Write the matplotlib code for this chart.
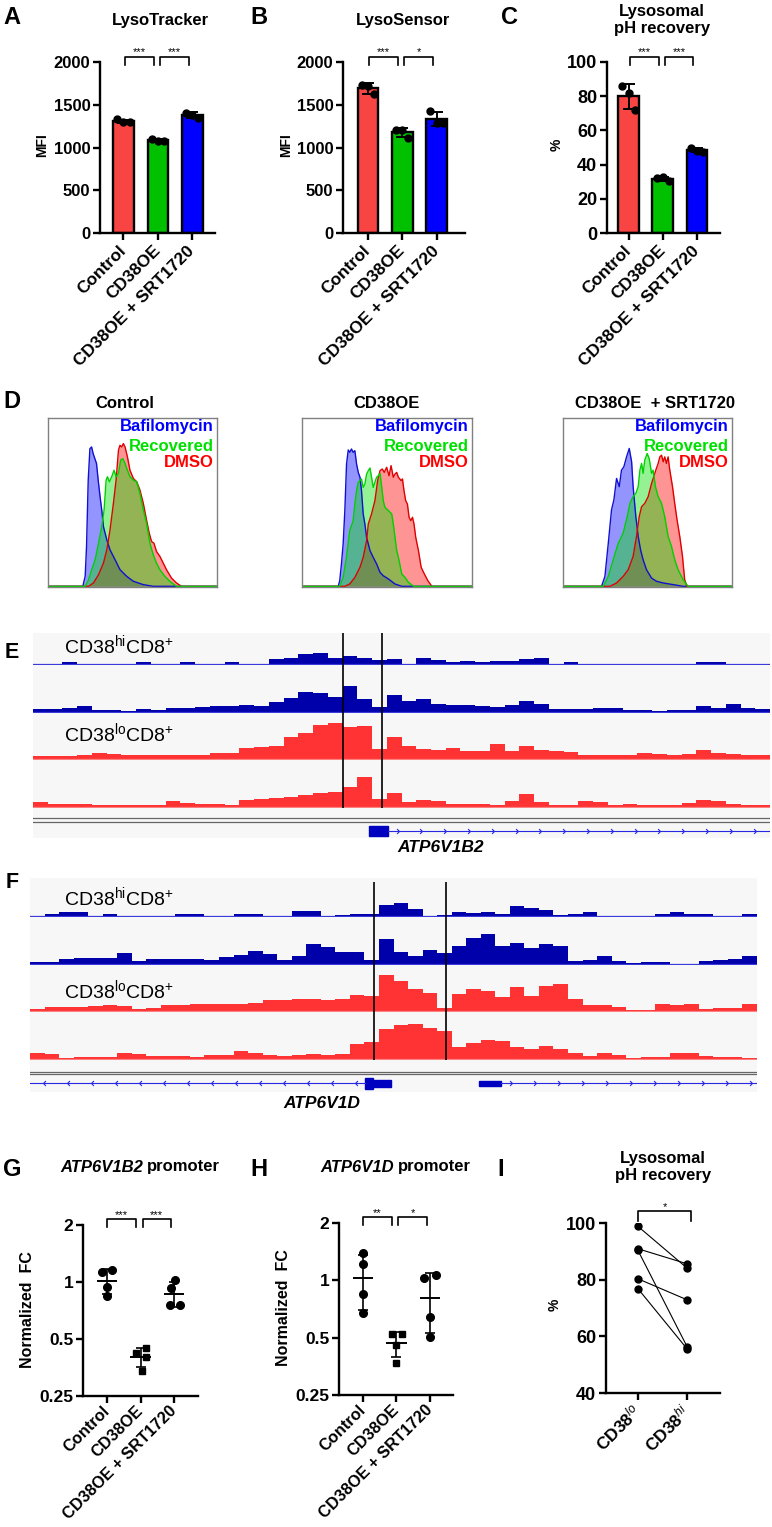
import numpy as np
import matplotlib
matplotlib.use('Agg')
import matplotlib.pyplot as plt
from matplotlib.path import Path
from matplotlib.patches import Rectangle

plt.rcParams['font.family'] = ['Liberation Sans', 'DejaVu Sans']
plt.rcParams['mathtext.fontset'] = 'custom'
plt.rcParams['mathtext.rm'] = 'Liberation Sans'
plt.rcParams['mathtext.it'] = 'Liberation Sans:italic'
plt.rcParams['mathtext.bf'] = 'Liberation Sans:bold'

W, H = 772, 1527

# ---------------- data ----------------
groups = ['Control', 'CD38OE', 'CD38OE + SRT1720']
tracker_pts = [[1330, 1300, 1295], [1105, 1080, 1075], [1405, 1385, 1340]]
sensor_pts = [[1735, 1725, 1620], [1210, 1205, 1115], [1425, 1290, 1285]]
recovery_pts = [[86, 82, 72], [32, 32.5, 30.5], [50, 48, 47.5]]

# flow histograms (x, y as fraction of the plot box)
ctrl_baf_x = [0, 0.206, 0.220, 0.228, 0.238, 0.248, 0.258, 0.267, 0.287, 0.297, 0.308, 0.318, 0.328, 0.348, 0.367, 0.397, 0.426, 0.466, 0.505, 0.564, 0.623, 1]
ctrl_baf_y = [0, 0, 0.06, 0.237, 0.631, 0.818, 0.828, 0.789, 0.730, 0.631, 0.533, 0.454, 0.355, 0.276, 0.217, 0.158, 0.099, 0.059, 0.030, 0.010, 0, 0]
ctrl_rec_x = [0, 0.220, 0.240, 0.259, 0.279, 0.299, 0.318, 0.332, 0.344, 0.352, 0.363, 0.377, 0.391, 0.403, 0.417, 0.430, 0.442, 0.456, 0.466, 0.485, 0.505, 0.525, 0.544, 0.564, 0.583, 0.603, 0.623, 0.642, 0.662, 0.692, 0.721, 0.760, 1]
ctrl_rec_y = [0, 0, 0.039, 0.099, 0.158, 0.256, 0.355, 0.454, 0.631, 0.651, 0.621, 0.651, 0.690, 0.651, 0.671, 0.750, 0.759, 0.730, 0.700, 0.651, 0.631, 0.621, 0.552, 0.454, 0.375, 0.256, 0.187, 0.138, 0.099, 0.059, 0.030, 0, 0]
ctrl_dmso_x = [0, 0.240, 0.269, 0.299, 0.328, 0.348, 0.367, 0.387, 0.403, 0.417, 0.426, 0.436, 0.446, 0.456, 0.470, 0.485, 0.505, 0.525, 0.544, 0.564, 0.583, 0.599, 0.613, 0.627, 0.642, 0.662, 0.682, 0.701, 0.731, 0.760, 0.790, 1]
ctrl_dmso_y = [0, 0, 0.020, 0.069, 0.138, 0.217, 0.335, 0.493, 0.631, 0.809, 0.838, 0.828, 0.848, 0.828, 0.769, 0.690, 0.641, 0.621, 0.572, 0.493, 0.394, 0.316, 0.266, 0.256, 0.207, 0.178, 0.138, 0.099, 0.049, 0.020, 0, 0]

oe_baf_x = [0, 0.213, 0.222, 0.232, 0.242, 0.252, 0.262, 0.272, 0.281, 0.291, 0.301, 0.311, 0.321, 0.331, 0.341, 0.350, 0.360, 0.370, 0.380, 0.400, 0.419, 0.439, 0.459, 0.478, 0.508, 0.547, 0.587, 1]
oe_baf_y = [0, 0, 0.034, 0.133, 0.251, 0.450, 0.727, 0.810, 0.796, 0.816, 0.796, 0.806, 0.727, 0.677, 0.648, 0.568, 0.430, 0.370, 0.291, 0.212, 0.172, 0.133, 0.083, 0.063, 0.044, 0.014, 0, 0]
oe_rec_x = [0, 0.222, 0.242, 0.262, 0.272, 0.281, 0.301, 0.311, 0.321, 0.331, 0.341, 0.350, 0.360, 0.370, 0.380, 0.390, 0.400, 0.409, 0.419, 0.429, 0.439, 0.449, 0.459, 0.469, 0.478, 0.488, 0.508, 0.528, 0.537, 0.547, 0.557, 0.567, 0.587, 0.606, 0.626, 0.656, 1]
oe_rec_y = [0, 0, 0.053, 0.172, 0.261, 0.331, 0.390, 0.489, 0.568, 0.618, 0.628, 0.638, 0.588, 0.608, 0.667, 0.687, 0.703, 0.648, 0.588, 0.618, 0.648, 0.657, 0.671, 0.588, 0.509, 0.469, 0.450, 0.430, 0.370, 0.291, 0.212, 0.172, 0.073, 0.053, 0.024, 0, 0]
oe_dmso_x = [0, 0.252, 0.281, 0.311, 0.341, 0.360, 0.380, 0.390, 0.409, 0.429, 0.445, 0.459, 0.472, 0.484, 0.498, 0.512, 0.524, 0.537, 0.547, 0.557, 0.567, 0.583, 0.591, 0.600, 0.610, 0.620, 0.630, 0.640, 0.650, 0.659, 0.669, 0.685, 0.701, 0.720, 0.740, 0.764, 1]
oe_dmso_y = [0, 0, 0.014, 0.053, 0.113, 0.172, 0.271, 0.370, 0.430, 0.509, 0.628, 0.687, 0.697, 0.677, 0.707, 0.657, 0.717, 0.648, 0.667, 0.677, 0.648, 0.628, 0.638, 0.568, 0.509, 0.489, 0.410, 0.390, 0.410, 0.370, 0.291, 0.212, 0.113, 0.073, 0.034, 0, 0]

srt_baf_x = [0, 0.228, 0.248, 0.268, 0.287, 0.301, 0.317, 0.333, 0.346, 0.360, 0.376, 0.392, 0.406, 0.415, 0.431, 0.445, 0.459, 0.474, 0.494, 0.524, 0.553, 0.593, 0.652, 0.711, 1]
srt_baf_y = [0, 0, 0.059, 0.256, 0.454, 0.513, 0.641, 0.592, 0.690, 0.710, 0.769, 0.819, 0.740, 0.592, 0.414, 0.296, 0.217, 0.158, 0.099, 0.049, 0.030, 0.020, 0.010, 0, 0]
srt_rec_x = [0, 0.238, 0.268, 0.297, 0.327, 0.356, 0.380, 0.396, 0.415, 0.431, 0.445, 0.455, 0.465, 0.474, 0.484, 0.498, 0.510, 0.524, 0.533, 0.547, 0.563, 0.583, 0.602, 0.622, 0.642, 0.661, 0.681, 0.711, 0.740, 1]
srt_rec_y = [0, 0, 0.059, 0.158, 0.256, 0.316, 0.414, 0.493, 0.533, 0.552, 0.592, 0.690, 0.730, 0.671, 0.750, 0.789, 0.759, 0.671, 0.690, 0.592, 0.533, 0.493, 0.414, 0.296, 0.237, 0.158, 0.099, 0.039, 0, 0]
srt_dmso_x = [0, 0.278, 0.317, 0.356, 0.386, 0.415, 0.435, 0.451, 0.465, 0.484, 0.504, 0.524, 0.537, 0.549, 0.563, 0.573, 0.583, 0.593, 0.602, 0.612, 0.622, 0.632, 0.648, 0.661, 0.675, 0.691, 0.707, 0.720, 0.734, 1]
srt_dmso_y = [0, 0, 0.020, 0.059, 0.099, 0.178, 0.296, 0.414, 0.473, 0.493, 0.533, 0.611, 0.651, 0.690, 0.730, 0.769, 0.779, 0.740, 0.769, 0.730, 0.769, 0.690, 0.592, 0.493, 0.394, 0.296, 0.178, 0.039, 0, 0]

hist_titles = ['Control', 'CD38OE', 'CD38OE  + SRT1720']
hist_legend = ['Bafilomycin', 'Recovered', 'DMSO']

# coverage tracks (50 bins across the locus, pixel heights)
e_hi1 = [0, 0, 2, 0, 0, 0, 0, 2, 0, 0, 2, 0, 0, 2, 0, 0, 5, 6, 10, 11, 6, 8, 6, 4, 5, 0, 6, 4, 2, 3, 2, 3, 3, 5, 6, 0, 2, 0, 0, 0, 0, 0, 0, 0, 0, 2, 2, 0, 0, 0]
e_hi2 = [3, 3, 4, 6, 2, 2, 1, 3, 2, 4, 4, 5, 6, 6, 7, 6, 10, 14, 20, 19, 15, 26, 13, 5, 17, 11, 13, 8, 7, 7, 6, 5, 7, 11, 8, 3, 3, 3, 4, 4, 2, 2, 1, 2, 2, 6, 4, 8, 4, 3]
e_lo1 = [3, 3, 3, 4, 6, 5, 4, 4, 4, 4, 4, 4, 6, 6, 11, 12, 13, 22, 26, 34, 36, 32, 33, 10, 22, 13, 10, 9, 11, 8, 8, 15, 8, 13, 9, 8, 7, 4, 4, 4, 4, 6, 5, 4, 5, 9, 6, 5, 4, 4]
e_lo2 = [5, 3, 3, 3, 2, 2, 2, 2, 2, 6, 4, 3, 3, 2, 7, 8, 9, 10, 12, 14, 15, 20, 30, 8, 14, 5, 7, 6, 3, 3, 3, 2, 6, 13, 5, 2, 2, 6, 5, 2, 3, 2, 2, 2, 4, 7, 6, 3, 2, 2]
f_hi1 = [0, 2, 4, 4, 0, 2, 0, 0, 0, 0, 2, 2, 0, 0, 2, 2, 0, 0, 5, 5, 0, 1, 2, 2, 11, 13, 7, 0, 1, 4, 3, 4, 2, 10, 8, 6, 1, 2, 4, 0, 0, 0, 0, 2, 4, 2, 2, 0, 0, 2]
f_hi2 = [2, 2, 5, 6, 6, 6, 11, 3, 5, 5, 5, 5, 4, 7, 9, 13, 10, 4, 8, 20, 17, 12, 12, 4, 25, 12, 8, 14, 11, 18, 26, 30, 18, 21, 16, 20, 18, 3, 4, 8, 3, 1, 2, 2, 0, 0, 3, 4, 5, 8]
f_lo1 = [2, 4, 4, 4, 5, 6, 5, 2, 3, 6, 6, 7, 7, 7, 7, 8, 11, 11, 12, 12, 11, 12, 16, 15, 36, 30, 22, 18, 3, 17, 22, 20, 14, 24, 15, 25, 27, 12, 6, 6, 4, 1, 1, 7, 6, 7, 2, 3, 3, 7]
f_lo2 = [6, 5, 1, 2, 2, 2, 6, 5, 3, 3, 3, 2, 4, 4, 8, 6, 4, 3, 4, 5, 4, 5, 15, 17, 30, 34, 35, 31, 28, 12, 16, 19, 18, 12, 10, 13, 10, 6, 3, 6, 4, 1, 2, 2, 6, 6, 3, 2, 2, 1]
e_region = [0.420, 0.474]
f_region = [0.473, 0.572]

# qPCR fold change
g_pts = [[1.13, 1.16, 0.94, 0.84], [0.42, 0.45, 0.40, 0.34], [1.02, 0.93, 0.76, 0.76]]
h_pts = [[1.39, 1.22, 0.85, 0.67], [0.52, 0.52, 0.46, 0.37], [1.03, 1.065, 0.64, 0.505]]
# paired pH recovery
i_lo = [98.8, 90.9, 90.3, 80.3, 76.8]
i_hi = [84.1, 85.6, 56.4, 72.9, 55.6]

# ---------------- style ----------------
bar_colors = ['#f94444', '#00c000', '#0000ff']
hist_colors = ['#0000ff', '#00e000', '#ff0000']
trk_blue = '#0000aa'
trk_red = '#ff3333'
gene_col = '#2828e0'

fig = plt.figure(figsize=(W / 100, H / 100), dpi=100)


def ax_px(l, t, r, b):
    return fig.add_axes([l / W, 1 - b / H, (r - l) / W, (b - t) / H])


def txt(x, y, s, **kw):
    kw.setdefault('ha', 'center')
    kw.setdefault('va', 'center')
    return fig.text(x / W, 1 - y / H, s, **kw)


def prism(ax):
    for s in ['top', 'right']:
        ax.spines[s].set_visible(False)
    for s in ['left', 'bottom']:
        ax.spines[s].set_linewidth(1.7)
    ax.tick_params(width=1.7, length=5, pad=2)


def bracket(ax, x0, x1, ytop, ybot, lab):
    tr = ax.get_xaxis_transform()
    ax.plot([x0, x0, x1, x1], [ybot, ytop, ytop, ybot], color='k', lw=1.2,
            transform=tr, clip_on=False)
    ax.text((x0 + x1) / 2, ytop + 0.008, lab, transform=tr, ha='center',
            va='baseline', fontsize=8)


def xlabels(ax, labels, n, fs=12.5, pad=6):
    ax.set_xticks(np.arange(n), labels, rotation=45, ha='right', va='center',
                  rotation_mode='anchor', fontweight='bold', fontsize=fs)
    ax.tick_params(axis='x', pad=pad)


jit3 = [-0.18, 0.0, 0.18]


def bar_panel(box, pts, xlim, ymax, step, sig, tfs):
    ax = ax_px(*box)
    x = np.arange(3)
    means = [np.mean(p) for p in pts]
    sds = [np.std(p, ddof=1) for p in pts]
    ax.bar(x, means, 0.6, color=bar_colors, edgecolor='k', linewidth=1.7, zorder=2)
    ax.errorbar(x, means, yerr=sds, fmt='none', ecolor='k', elinewidth=1.4,
                capsize=4, capthick=1.4, zorder=3)
    for i, p in enumerate(pts):
        ax.plot(i + np.array(jit3), p, 'o', color='k', ms=5, zorder=4)
    ax.set_xlim(*xlim)
    ax.set_ylim(0, ymax)
    ticks = np.arange(0, ymax + 1, step)
    ax.set_yticks(ticks, [f'{t:g}' for t in ticks], fontweight='bold', fontsize=tfs)
    prism(ax)
    xlabels(ax, groups, 3)
    bracket(ax, 0.04, 0.88, 1.03, 0.983, sig[0])
    bracket(ax, 1.06, 1.9, 1.03, 0.983, sig[1])
    return ax


# ---------------- A-C ----------------
bar_panel((100, 62, 215, 233), tracker_pts, (-0.68, 2.66), 2000, 500, ['***', '***'], 12)
bar_panel((343, 62, 465, 233), sensor_pts, (-0.73, 2.83), 2000, 500, ['***', '*'], 12)
bar_panel((607, 62, 720, 233), recovery_pts, (-0.63, 2.68), 100, 20, ['***', '***'], 13)

txt(160, 21, 'LysoTracker', fontweight='bold', fontsize=12)
txt(403, 21, 'LysoSensor', fontweight='bold', fontsize=12)
txt(662, 20, 'Lysosomal\npH recovery', fontweight='bold', fontsize=12, linespacing=1.1)
txt(42, 145, 'MFI', rotation=90, fontweight='bold', fontsize=10)
txt(286, 145, 'MFI', rotation=90, fontweight='bold', fontsize=10)
txt(557, 145, '%', rotation=90, fontweight='bold', fontsize=10)

# ---------------- D ----------------
hist_sets = [
    [(ctrl_baf_x, ctrl_baf_y), (ctrl_rec_x, ctrl_rec_y), (ctrl_dmso_x, ctrl_dmso_y)],
    [(oe_baf_x, oe_baf_y), (oe_rec_x, oe_rec_y), (oe_dmso_x, oe_dmso_y)],
    [(srt_baf_x, srt_baf_y), (srt_rec_x, srt_rec_y), (srt_dmso_x, srt_dmso_y)],
]
hist_boxes = [(48, 418, 217, 587), (302, 418, 472, 587), (563, 418, 732, 587)]
hist_title_x = [125, 387, 655]
draw_order = [0, 2, 1]
line_cols = ['#1010d0', '#00d000', '#e00000']
for box, curves, title, tx in zip(hist_boxes, hist_sets, hist_titles, hist_title_x):
    ax = ax_px(*box)
    for k in draw_order:
        xs, ys = curves[k]
        ax.fill_between(xs, ys, color=hist_colors[k], alpha=0.42, lw=0)
    for k in draw_order:
        xs, ys = curves[k]
        ax.plot(xs, ys, color=line_cols[k], lw=1.0)
    ax.set_xlim(0, 1)
    ax.set_ylim(-0.004, 1)
    ax.set_xticks([])
    ax.set_yticks([])
    for s in ax.spines.values():
        s.set_color('#808080')
        s.set_linewidth(1.0)
    for lab, col, yy in zip(hist_legend, hist_colors, [0.947, 0.834, 0.734]):
        ax.text(0.98, yy, lab, color=col, transform=ax.transAxes, ha='right',
                va='center', fontweight='bold', fontsize=12)
    txt(tx, 403, title, fontweight='bold', fontsize=12)

# ---------------- E / F ----------------
edges = np.linspace(0, 1, 51)
chev_r = Path([(-1, 1), (0, 0), (-1, -1)], [Path.MOVETO, Path.LINETO, Path.LINETO])
chev_l = Path([(1, 1), (0, 0), (1, -1)], [Path.MOVETO, Path.LINETO, Path.LINETO])


def bare(ax):
    ax.set_xticks([])
    ax.set_yticks([])
    for s in ax.spines.values():
        s.set_visible(False)


def track_panel(l, r, top, bot, rows, tracks, region, vtop, vbot, dbl):
    bg = ax_px(l, top, r, bot)
    bg.set_facecolor('#f7f7f7')
    bare(bg)
    cols = [trk_blue, trk_blue, trk_red, trk_red]
    base_cols = ['#3a3ad8', '#3a3ad8', '#ff8080', '#ff8080']
    for (t, b), h, c, bc in zip(rows, tracks, cols, base_cols):
        a = ax_px(l, t, r, b)
        a.patch.set_alpha(0)
        a.axhline(0, color=bc, lw=0.9)
        a.stairs(h, edges, fill=True, color=c, lw=0)
        a.set_xlim(0, 1)
        a.set_ylim(-1, b - t - 1)
        bare(a)
    ov = ax_px(l, top, r, bot)
    ov.patch.set_alpha(0)
    ov.set_xlim(0, 1)
    ov.set_ylim(bot, top)
    bare(ov)
    ov.vlines(region, vtop, vbot, color='k', lw=1.2)
    for y in dbl:
        ov.axhline(y, color='#666666', lw=0.9)
    return ov


e_rows = [(633, 665), (665, 713), (713, 760), (760, 808)]
ov = track_panel(33, 770, 633, 838, e_rows, [e_hi1, e_hi2, e_lo1, e_lo2],
                 e_region, 633, 808, [818.3, 821.7])
ov.plot([0.482, 1.0], [831, 831], color=gene_col, lw=0.8)
xs = np.arange(0.496, 0.99, 0.0323)
ov.plot(xs, np.full(len(xs), 831), ls='none', marker=chev_r, ms=3.5,
        mec=gene_col, mfc='none', mew=0.8)
ov.add_patch(Rectangle((0.456, 826), 0.026, 10, color='#0000c0'))
txt(441, 847, 'ATP6V1B2', fontweight='bold', fontstyle='italic', fontsize=12.5)

f_rows = [(878, 917), (917, 965), (965, 1012), (1012, 1060)]
ov = track_panel(30, 757, 878, 1092, f_rows, [f_hi1, f_hi2, f_lo1, f_lo2],
                 f_region, 882, 1060, [1071.7, 1074.3])
ov.plot([0, 0.461], [1083, 1083], color=gene_col, lw=0.8)
xs = np.arange(0.018, 0.45, 0.033)
ov.plot(xs, np.full(len(xs), 1083), ls='none', marker=chev_l, ms=3.5,
        mec=gene_col, mfc='none', mew=0.8)
ov.add_patch(Rectangle((0.461, 1077.5), 0.011, 11, color='#0000c0'))
ov.add_patch(Rectangle((0.472, 1080), 0.025, 6.5, color='#0000c0'))
ov.add_patch(Rectangle((0.618, 1080.5), 0.030, 5.5, color='#0000c0'))
ov.plot([0.648, 1.0], [1083, 1083], color=gene_col, lw=0.8)
xs = np.arange(0.663, 1.0, 0.033)
ov.plot(xs, np.full(len(xs), 1083), ls='none', marker=chev_r, ms=3.5,
        mec=gene_col, mfc='none', mew=0.8)
txt(322, 1104, 'ATP6V1D', fontweight='bold', fontstyle='italic', fontsize=12.5)

for y, s in [(645, 'CD38$^{\\mathrm{hi}}$CD8$^{+}$'), (733, 'CD38$^{\\mathrm{lo}}$CD8$^{+}$'),
             (897, 'CD38$^{\\mathrm{hi}}$CD8$^{+}$'), (990, 'CD38$^{\\mathrm{lo}}$CD8$^{+}$')]:
    txt(64, y, s, ha='left', fontsize=14)

# ---------------- G / H ----------------
g_jit = [[-0.15, 0.15, 0.0, 0.0], [-0.14, 0.15, 0.15, 0.03], [0.03, -0.1, -0.12, 0.18]]
h_jit = [[0.0, 0.0, 0.0, 0.0], [-0.13, 0.17, 0.0, 0.0], [-0.18, 0.17, 0.0, 0.0]]
markers = ['o', 's', 'o']


def fc_panel(box, pts, jit, xlim, sig):
    ax = ax_px(*box)
    for i, (p, j) in enumerate(zip(pts, jit)):
        m = np.mean(p)
        sd = np.std(p, ddof=1)
        ax.plot(i + np.array(j), p, markers[i], color='k', ms=5.5 if i != 1 else 5, zorder=3)
        ax.hlines(m, i - 0.31, i + 0.31, color='k', lw=1.4)
        ax.errorbar([i], [m], yerr=[sd], fmt='none', ecolor='k', elinewidth=1.2,
                    capsize=3.6, capthick=1.2)
    ax.set_yscale('log', base=2)
    ax.set_ylim(0.25, 2)
    ax.set_xlim(*xlim)
    ax.set_yticks([0.25, 0.5, 1, 2], ['0.25', '0.5', '1', '2'], fontweight='bold', fontsize=12.5)
    ax.minorticks_off()
    prism(ax)
    xlabels(ax, groups, 3, fs=11.8, pad=4)
    bracket(ax, 0.0, 0.86, 1.035, 0.99, sig[0])
    bracket(ax, 1.06, 1.9, 1.035, 0.99, sig[1])
    return ax


fc_panel((83, 1225, 198, 1396), g_pts, g_jit, (-0.716, 2.716), ['***', '***'])
fc_panel((339, 1223, 453, 1395), h_pts, h_jit, (-0.716, 2.69), ['**', '*'])
txt(143, 1167, 'ATP6V1B2', ha='right', fontweight='bold', fontstyle='italic', fontsize=12)
txt(147, 1167, 'promoter', ha='left', fontweight='bold', fontsize=12)
txt(394, 1167, 'ATP6V1D', ha='right', fontweight='bold', fontstyle='italic', fontsize=12)
txt(398, 1167, 'promoter', ha='left', fontweight='bold', fontsize=12)
txt(28, 1310, 'Normalized  FC', rotation=90, fontweight='bold', fontsize=11.5)
txt(283, 1308, 'Normalized  FC', rotation=90, fontweight='bold', fontsize=11.5)

# ---------------- I ----------------
ax = ax_px(606, 1223, 720, 1393)
for lo, hi in zip(i_lo, i_hi):
    ax.plot([0, 1], [lo, hi], color='k', lw=0.8, zorder=2)
ax.plot(np.zeros(len(i_lo)), i_lo, 'o', color='k', ms=5, zorder=3)
ax.plot(np.ones(len(i_hi)), i_hi, 'o', color='k', ms=5, zorder=3)
ax.set_xlim(-0.653, 1.673)
ax.set_ylim(40, 100)
ax.set_yticks([40, 60, 80, 100], ['40', '60', '80', '100'], fontweight='bold', fontsize=13)
prism(ax)
xlabels(ax, ['CD38$^{lo}$', 'CD38$^{hi}$'], 2)
bracket(ax, 0.0, 1.08, 1.07, 1.01, '*')
txt(663, 1167, 'Lysosomal\npH recovery', fontweight='bold', fontsize=12, linespacing=1.1)
txt(555, 1305, '%', rotation=90, fontweight='bold', fontsize=10)

# ---------------- panel letters ----------------
for x, y, s in [(12, 17, 'A'), (259, 17, 'B'), (509, 17, 'C'), (12, 402, 'D'),
                (12, 653, 'E'), (12, 882, 'F'), (12, 1170, 'G'), (259, 1170, 'H'),
                (501, 1170, 'I')]:
    txt(x, y, s, fontweight='bold', fontsize=17 if s not in 'EF' else 15.5)

fig.savefig('out.png', dpi=100)
